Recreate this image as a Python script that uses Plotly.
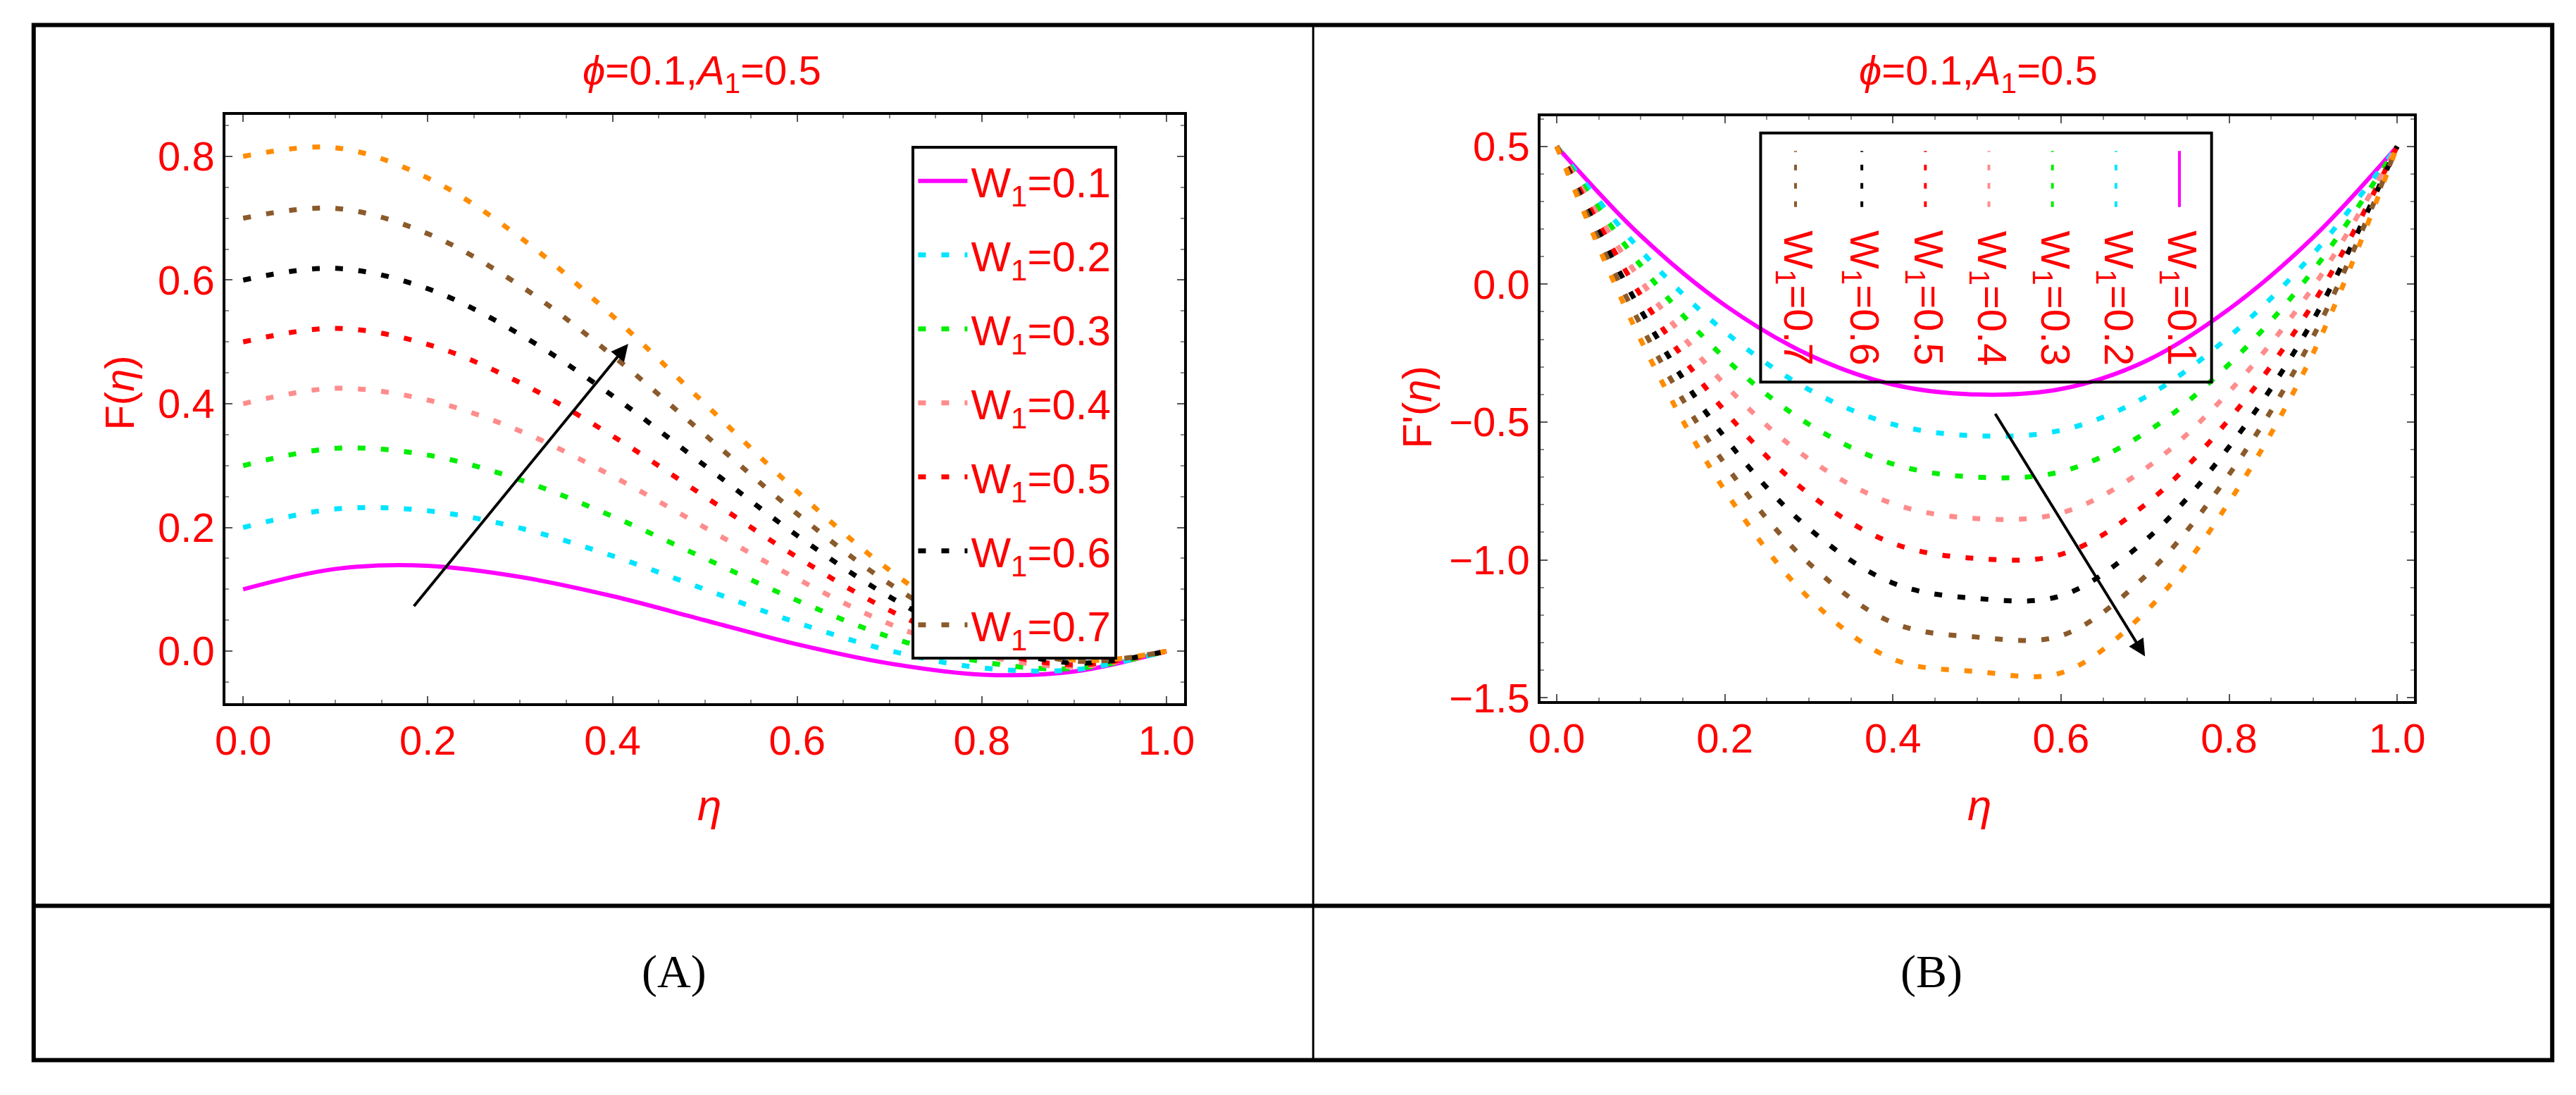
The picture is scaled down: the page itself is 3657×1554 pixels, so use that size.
import plotly.graph_objects as go

# eta grid shared by all curves
eta = [0.0, 0.1, 0.2, 0.3, 0.4, 0.5, 0.6, 0.7, 0.8, 0.9, 1.0]

w_values = [0.1, 0.2, 0.3, 0.4, 0.5, 0.6, 0.7, 0.8]
colors = ["#ff00ff", "#00e5ff", "#00ee00", "#ff8c8c", "#ff0000", "#000000", "#8b5a2b", "#ff8c00"]

# F(eta)
F_w1 = [0.100, 0.133, 0.138, 0.120, 0.089, 0.050, 0.011, -0.020, -0.038, -0.033, 0.0]
F_w2 = [0.200, 0.230, 0.227, 0.199, 0.154, 0.100, 0.046, 0.001, -0.027, -0.030, 0.0]
F_w3 = [0.300, 0.328, 0.317, 0.277, 0.218, 0.150, 0.082, 0.023, -0.017, -0.028, 0.0]
F_w4 = [0.400, 0.425, 0.406, 0.356, 0.283, 0.200, 0.117, 0.044, -0.006, -0.025, 0.0]
F_w5 = [0.500, 0.522, 0.496, 0.434, 0.348, 0.250, 0.152, 0.066, 0.004, -0.022, 0.0]
F_w6 = [0.600, 0.619, 0.586, 0.512, 0.413, 0.300, 0.187, 0.088, 0.014, -0.019, 0.0]
F_w7 = [0.700, 0.716, 0.675, 0.591, 0.478, 0.350, 0.222, 0.109, 0.025, -0.016, 0.0]
F_w8 = [0.800, 0.814, 0.765, 0.669, 0.542, 0.400, 0.258, 0.131, 0.035, -0.014, 0.0]

# F'(eta)
dF_w1 = [0.5, 0.176, -0.076, -0.256, -0.364, -0.400, -0.380, -0.280, -0.090, 0.170, 0.5]
dF_w2 = [0.5, 0.122, -0.172, -0.382, -0.508, -0.550, -0.530, -0.410, -0.190, 0.110, 0.5]
dF_w3 = [0.5, 0.068, -0.268, -0.508, -0.652, -0.700, -0.680, -0.540, -0.290, 0.050, 0.5]
dF_w4 = [0.5, 0.014, -0.364, -0.634, -0.796, -0.850, -0.830, -0.670, -0.390, -0.010, 0.5]
dF_w5 = [0.5, -0.040, -0.460, -0.760, -0.940, -0.995, -0.980, -0.800, -0.490, -0.070, 0.5]
dF_w6 = [0.5, -0.094, -0.556, -0.886, -1.084, -1.140, -1.130, -0.930, -0.590, -0.130, 0.5]
dF_w7 = [0.5, -0.148, -0.652, -1.012, -1.228, -1.280, -1.275, -1.060, -0.690, -0.190, 0.5]
dF_w8 = [0.5, -0.202, -0.748, -1.138, -1.360, -1.405, -1.410, -1.190, -0.790, -0.250, 0.5]

F_all = [F_w1, F_w2, F_w3, F_w4, F_w5, F_w6, F_w7, F_w8]
dF_all = [dF_w1, dF_w2, dF_w3, dF_w4, dF_w5, dF_w6, dF_w7, dF_w8]

W, H = 3657, 1554
RED = "#ff0000"
FONT = "Liberation Sans"


def px(x):
    return x / W


def py(y):
    return 1 - y / H


DOT = "11px,22px"

fig = go.Figure()
for i, (w, c) in enumerate(zip(w_values, colors)):
    dash = "solid" if i == 0 else DOT
    fig.add_trace(go.Scatter(
        x=eta, y=F_all[i], mode="lines", line=dict(color=c, width=7 if i else 6, dash=dash, shape="spline"),
        name=f"W<sub>1</sub>={w}", legendgroup=f"g{i}", showlegend=i < 7, xaxis="x", yaxis="y",
    ))
for i, (w, c) in enumerate(zip(w_values, colors)):
    dash = "solid" if i == 0 else DOT
    fig.add_trace(go.Scatter(
        x=eta, y=dF_all[i], mode="lines", line=dict(color=c, width=7 if i else 6, dash=dash, shape="spline"),
        showlegend=False, xaxis="x2", yaxis="y2",
    ))

axis_common = dict(
    showgrid=False, zeroline=False, showline=True, linecolor="black", linewidth=4, mirror="ticks",
    ticks="inside", ticklen=10, tickcolor="#555", tickwidth=2,
    minor=dict(ticks="inside", ticklen=5, tickcolor="#888", nticks=5),
    tickfont=dict(color=RED, size=58, family=FONT),
)

fig.update_layout(
    width=W, height=H, margin=dict(l=0, r=0, t=0, b=0),
    paper_bgcolor="white", plot_bgcolor="white",
    xaxis=dict(domain=[px(298), px(1671)], range=[-0.019, 1.019], tickvals=[0, 0.2, 0.4, 0.6, 0.8, 1.0],
               ticktext=["0.0", "0.2", "0.4", "0.6", "0.8", "1.0"], **axis_common),
    yaxis=dict(domain=[py(1008), py(158)], range=[-0.084, 0.867], tickvals=[0, 0.2, 0.4, 0.6, 0.8],
               ticktext=["0.0", "0.2", "0.4", "0.6", "0.8"], **axis_common),
    xaxis2=dict(domain=[px(2182), px(3433)], range=[-0.019, 1.02], anchor="y2", tickvals=[0, 0.2, 0.4, 0.6, 0.8, 1.0],
                ticktext=["0.0", "0.2", "0.4", "0.6", "0.8", "1.0"], **axis_common),
    yaxis2=dict(domain=[py(1005), py(160)], range=[-1.512, 0.609], anchor="x2", tickvals=[-1.5, -1.0, -0.5, 0, 0.5],
                ticktext=["\u22121.5", "\u22121.0", "\u22120.5", "0.0", "0.5"], **axis_common),
    legend=dict(x=px(1281), y=py(203), xanchor="left", yanchor="top", bordercolor="black", borderwidth=4,
                bgcolor="white", font=dict(color=RED, size=60, family=FONT), tracegroupgap=24, itemwidth=70),
    showlegend=True,
)


def label(text, x, y, size=58, color=RED, family=FONT, angle=0):
    return dict(text=text, x=px(x), y=py(y), xref="paper", yref="paper", xanchor="center", yanchor="middle",
                textangle=angle, showarrow=False, font=dict(color=color, size=size, family=family))


ann = []
for xc in [980, 2809]:
    ann.append(label("<i>\u03d5</i>=0.1,<i>A</i><sub>1</sub>=0.5", xc, 98, size=58))
for xc in [991, 2810]:
    ann.append(label("<i>\u03b7</i>", xc, 1155, size=62))
ann.append(label("F(<i>\u03b7</i>)", 146, 560, angle=-90))
ann.append(label("F'(<i>\u03b7</i>)", 2005, 580, angle=-90))
for lab, xc in [("(A)", 940), ("(B)", 2742)]:
    ann.append(label(lab, xc, 1396, size=66, color="black", family="Liberation Serif"))

# arrows
ann.append(dict(x=0.417, y=0.497, ax=0.184, ay=0.071, xref="x", yref="y", axref="x", ayref="y",
                showarrow=True, arrowhead=2, arrowsize=1.2, arrowwidth=4, arrowcolor="black", text=""))
ann.append(dict(x=0.70, y=-1.35, ax=0.521, ay=-0.466, xref="x2", yref="y2", axref="x2", ayref="y2",
                showarrow=True, arrowhead=2, arrowsize=1.2, arrowwidth=4, arrowcolor="black", text=""))

shapes = []
# table frame
shapes.append(dict(type="rect", x0=px(23), x1=px(3631), y0=py(1524), y1=py(28), xref="paper", yref="paper",
                   line=dict(color="black", width=6)))
shapes.append(dict(type="line", x0=px(1856), x1=px(1856), y0=py(1524), y1=py(28), xref="paper", yref="paper",
                   line=dict(color="black", width=3)))
shapes.append(dict(type="line", x0=px(23), x1=px(3631), y0=py(1301), y1=py(1301), xref="paper", yref="paper",
                   line=dict(color="black", width=6)))

# rotated legend for panel (B)
shapes.append(dict(type="rect", x0=px(2497), x1=px(3143), y0=py(544), y1=py(184), xref="paper", yref="paper",
                   line=dict(color="black", width=4), fillcolor="rgba(255,255,255,0)"))
leg_x = [3097, 3006, 2915, 2824, 2733, 2642, 2547]
for i in range(7):
    dash = "solid" if i == 0 else "8px,18px"
    shapes.append(dict(type="line", x0=px(leg_x[i]), x1=px(leg_x[i]), y0=py(291), y1=py(210),
                       xref="paper", yref="paper", line=dict(color=colors[i], width=4, dash=dash)))
    a = label(f"W<sub>1</sub>={w_values[i]}", leg_x[i], 323, angle=90)
    a["yanchor"] = "top"
    ann.append(a)

fig.update_layout(annotations=ann, shapes=shapes)
fig.write_html("out.html")
